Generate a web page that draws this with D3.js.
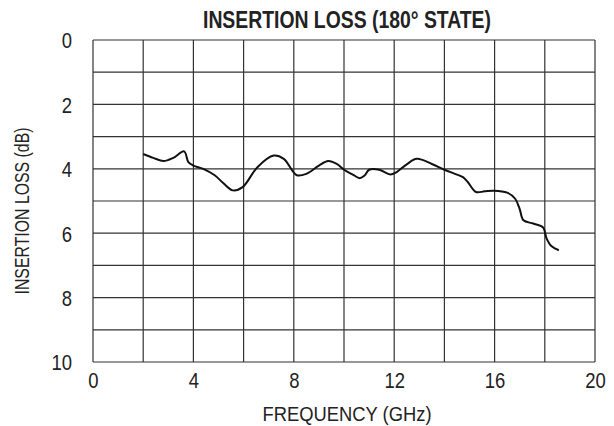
<!DOCTYPE html>
<html>
<head>
<meta charset="utf-8">
<style>
    body { margin:0; background:#fff; }
    svg text { font-family:"Liberation Sans",Arial,sans-serif; fill:#222; }
</style>
</head>
<body>
<svg id="chart"></svg>
<script src="https://d3js.org/d3.v7.min.js"></script>
<script>
    const width = 614;
    const height = 426;

    // frequency (GHz) and insertion loss (dB)
    const freq = [2.0, 2.4, 2.81, 3.2, 3.63, 3.8, 4.0, 4.39, 4.85, 5.2, 5.57, 5.96, 6.55, 7.2, 7.6, 8.12, 8.52, 9.0, 9.37, 9.71, 10.0, 10.35, 10.63, 10.82, 11.0, 11.4, 11.85, 12.1, 12.5, 12.9, 13.5, 14.0, 14.5, 14.74, 14.93, 15.26, 15.6, 15.97, 16.5, 16.82, 17.0, 17.15, 17.54, 17.93, 18.07, 18.26, 18.56];
    const loss = [3.54, 3.66, 3.76, 3.66, 3.46, 3.79, 3.9, 4.0, 4.2, 4.45, 4.67, 4.57, 3.95, 3.59, 3.69, 4.2, 4.15, 3.9, 3.76, 3.85, 4.03, 4.18, 4.29, 4.21, 4.03, 4.03, 4.18, 4.1, 3.86, 3.69, 3.85, 4.03, 4.18, 4.26, 4.41, 4.72, 4.7, 4.68, 4.74, 4.93, 5.25, 5.6, 5.7, 5.82, 6.16, 6.4, 6.53];

    const xTicks = [0, 4, 8, 12, 16, 20];
    const yTicks = [0, 2, 4, 6, 8, 10];

    const margin = {top: 40, right: 19, bottom: 64, left: 93};
    const squeeze = 0.84;   // narrow the glyphs, the original uses a condensed face

    const svg = d3.select("#chart")
        .attr("width", width)
        .attr("height", height);

    const x = d3.scaleLinear()
        .domain([0, 20])
        .range([margin.left, width - margin.right]);
    const y = d3.scaleLinear()
        .domain([0, 10])
        .range([margin.top, height - margin.bottom]);

    // grid
    svg.append("g")
        .selectAll("line")
        .data(d3.range(0, 21, 2))
        .join("line")
        .attr("x1", d => x(d)).attr("x2", d => x(d))
        .attr("y1", y(0)).attr("y2", y(10))
        .attr("stroke", "#333").attr("stroke-width", 1.2);
    svg.append("g")
        .selectAll("line")
        .data(d3.range(0, 11, 1))
        .join("line")
        .attr("x1", x(0)).attr("x2", x(20))
        .attr("y1", d => y(d)).attr("y2", d => y(d))
        .attr("stroke", "#333").attr("stroke-width", 1.2);

    // axes (labels only)
    const gx = svg.append("g")
        .attr("transform", `translate(0,${y(10)})`)
        .call(d3.axisBottom(x).tickValues(xTicks).tickSize(0));
    gx.select(".domain").remove();
    gx.selectAll("text")
        .attr("font-size", 22)
        .attr("y", 26).attr("dy", null)
        .attr("transform", `scale(${squeeze},1)`);

    const gy = svg.append("g")
        .attr("transform", `translate(${x(0)},0)`)
        .call(d3.axisLeft(y).tickValues(yTicks).tickSize(0));
    gy.select(".domain").remove();
    gy.selectAll("text")
        .attr("font-size", 22)
        .attr("x", -21 / squeeze)
        .attr("dy", "0.36em")
        .attr("transform", `scale(${squeeze},1)`);

    // curve
    const pts = freq.map((f, i) => [f, loss[i]]);
    svg.append("path")
        .datum(pts)
        .attr("fill", "none")
        .attr("stroke", "#111")
        .attr("stroke-width", 2)
        .attr("d", d3.line()
            .x(d => x(d[0]))
            .y(d => y(d[1]))
            .curve(d3.curveCatmullRom.alpha(0.5)));

    // titles
    svg.append("text")
        .attr("x", 347).attr("y", 28)
        .attr("text-anchor", "middle")
        .attr("font-size", 23).attr("font-weight", "bold")
        .attr("textLength", 288).attr("lengthAdjust", "spacingAndGlyphs")
        .text("INSERTION LOSS (180° STATE)");

    svg.append("text")
        .attr("x", 347).attr("y", 421)
        .attr("text-anchor", "middle")
        .attr("font-size", 21)
        .attr("textLength", 169).attr("lengthAdjust", "spacingAndGlyphs")
        .text("FREQUENCY (GHz)");

    svg.append("text")
        .attr("transform", `translate(29,211) rotate(-90)`)
        .attr("text-anchor", "middle")
        .attr("font-size", 21)
        .attr("textLength", 167).attr("lengthAdjust", "spacingAndGlyphs")
        .text("INSERTION LOSS (dB)");
</script>
</body>
</html>
